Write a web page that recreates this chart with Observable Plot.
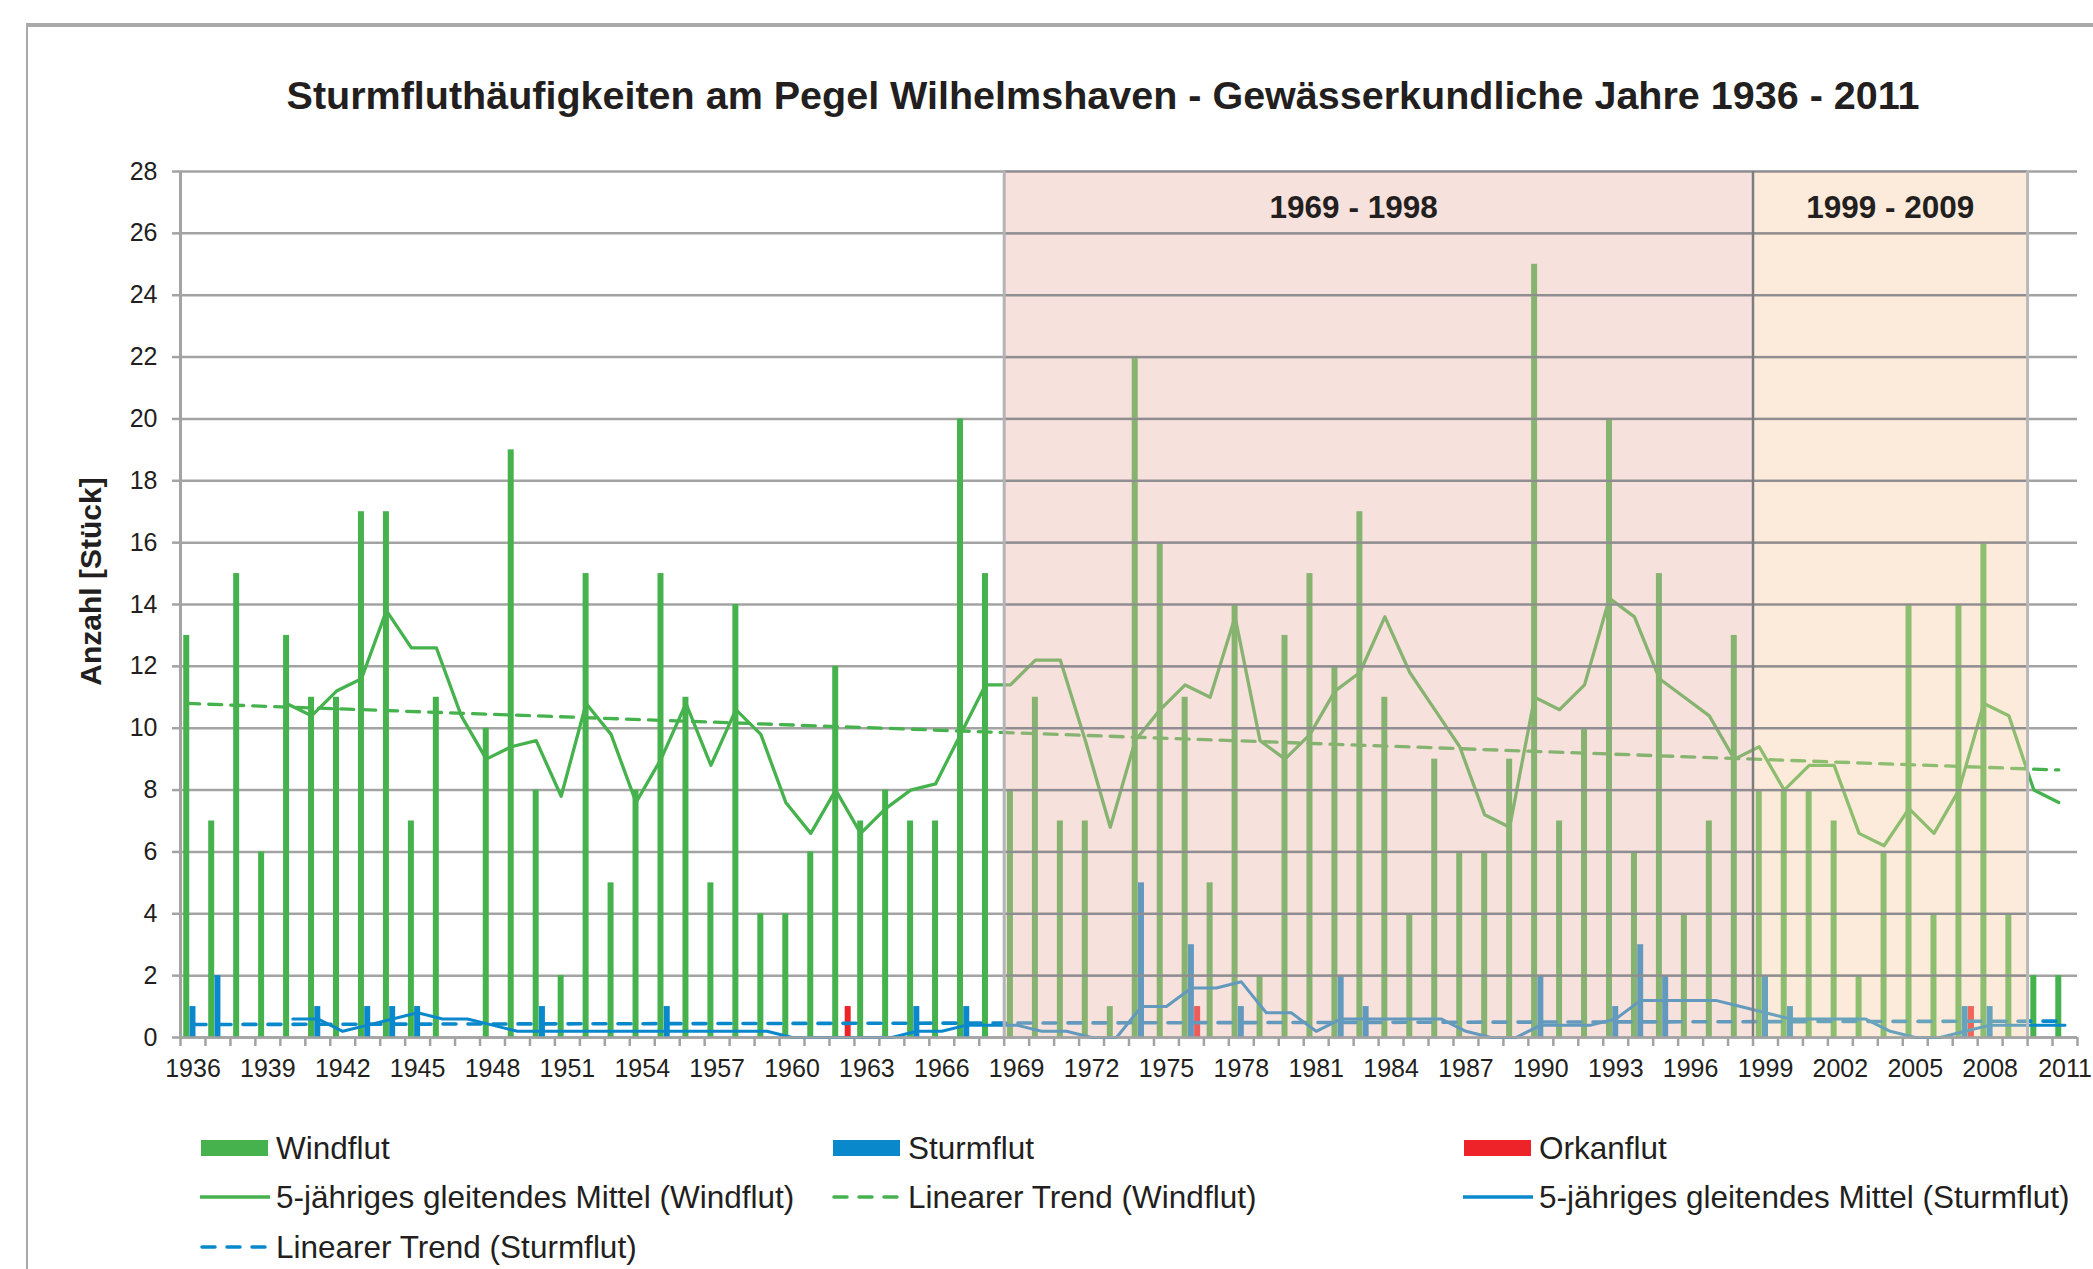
<!DOCTYPE html>
<html>
<head>
<meta charset="utf-8">
<script src="https://cdn.jsdelivr.net/npm/d3@7"></script>
<script src="https://cdn.jsdelivr.net/npm/@observablehq/plot@0.6"></script>
<style>
  html, body { margin: 0; padding: 0; background: #fff; }
  body { font-family: "Liberation Sans", Arial, sans-serif; color: #231f20; }
  #wrap { position: relative; width: 2093px; height: 1269px; overflow: hidden; }
  #frameTop { position: absolute; left: 26px; top: 23px; width: 2100px; height: 0; border-top: 4px solid #a9a9a9; }
  #frameLeft { position: absolute; left: 26px; top: 23px; width: 0; height: 1300px; border-left: 2px solid #a9a9a9; }
  #title { position: absolute; left: 0; width: 2206px; top: 72px; text-align: center; font-weight: bold; font-size: 39.5px; line-height: 46px; white-space: nowrap; }
  #chart { position: absolute; left: 0; top: 130px; }
  .leg { position: absolute; height: 40px; display: flex; align-items: center; font-size: 31.5px; white-space: nowrap; }
  .leg svg { display: block; margin-right: 6px; }
</style>
</head>
<body>
<div id="wrap">
  <div id="frameTop"></div>
  <div id="frameLeft"></div>
  <div id="title">Sturmfluthäufigkeiten am Pegel Wilhelmshaven - Gewässerkundliche Jahre 1936 - 2011</div>
  <div id="chart"></div>
  <div id="legend"></div>
</div>
<script>
// ---------- data ----------
const years = [1936,1937,1938,1939,1940,1941,1942,1943,1944,1945,
  1946,1947,1948,1949,1950,1951,1952,1953,1954,1955,
  1956,1957,1958,1959,1960,1961,1962,1963,1964,1965,
  1966,1967,1968,1969,1970,1971,1972,1973,1974,1975,
  1976,1977,1978,1979,1980,1981,1982,1983,1984,1985,
  1986,1987,1988,1989,1990,1991,1992,1993,1994,1995,
  1996,1997,1998,1999,2000,2001,2002,2003,2004,2005,
  2006,2007,2008,2009,2010,2011];

const windflut = [13,7,15,6,13,11,11,17,17,7,
  11,0,10,19,8,2,15,5,8,15,
  11,5,14,4,4,6,12,7,8,7,
  7,20,15,8,11,7,7,1,22,16,
  11,5,14,2,13,15,12,17,11,4,
  9,6,6,9,25,7,10,20,6,15,
  4,7,13,8,8,8,7,2,6,14,
  4,14,16,4,2,2];

const sturmflut = [1,2,0,0,0,1,0,1,1,1,
  0,0,0,0,1,0,0,0,0,1,
  0,0,0,0,0,0,0,0,0,1,
  0,1,0,0,0,0,0,0,5,0,
  3,0,1,0,0,0,2,1,0,0,
  0,0,0,0,2,0,0,1,3,2,
  0,0,0,2,1,0,0,0,0,0,
  0,1,1,0,0,0];

const orkanflut = [0,0,0,0,0,0,0,0,0,0,
  0,0,0,0,0,0,0,0,0,0,
  0,0,0,0,0,0,1,0,0,0,
  0,0,0,0,0,0,0,0,0,0,
  1,0,0,0,0,0,0,0,0,0,
  0,0,0,0,0,0,0,0,0,0,
  0,0,0,0,0,0,0,0,0,0,
  0,1,0,0,0,0];

// 5-jähriges gleitendes Mittel, years 1940 - 2011
const maYears = years.slice(4);
const maWindflut = [10.8,10.4,11.2,11.6,13.8,12.6,12.6,10.4,9.0,9.4,
  9.6,7.8,10.8,9.8,7.6,9.0,10.8,8.8,10.6,9.8,
  7.6,6.6,8.0,6.6,7.4,8.0,8.2,9.8,11.4,11.4,
  12.2,12.2,9.6,6.8,9.6,10.6,11.4,11.0,13.6,9.6,
  9.0,9.8,11.2,11.8,13.6,11.8,10.6,9.4,7.2,6.8,
  11.0,10.6,11.4,14.2,13.6,11.6,11.0,10.4,9.0,9.4,
  8.0,8.8,8.8,6.6,6.2,7.4,6.6,8.0,10.8,10.4,
  8.0,7.6];
const maSturmflut = [0.6,0.6,0.2,0.4,0.6,0.8,0.6,0.6,0.4,0.2,
  0.2,0.2,0.2,0.2,0.2,0.2,0.2,0.2,0.2,0.2,
  0,0,0,0,0,0.2,0.2,0.4,0.4,0.4,
  0.2,0.2,0,0,1.0,1.0,1.6,1.6,1.8,0.8,
  0.8,0.2,0.6,0.6,0.6,0.6,0.6,0.2,0,0,
  0.4,0.4,0.4,0.6,1.2,1.2,1.2,1.2,1.0,0.8,
  0.6,0.6,0.6,0.6,0.2,0,0,0.2,0.4,0.4,
  0.4,0.4];

// Linear trends (end points)
const trendYears = [1936, 2011];
const trendWindflut = [10.8, 8.65];
const trendSturmflut = [0.42, 0.53];

// Periods
const periodFrom = [1969, 1999];
const periodTo = [1998, 2009];
const periodLabels = ["1969 - 1998", "1999 - 2009"];
const periodLabelYear = [1982.5, 2004];
const periodFill = ["rgb(232,180,167)", "rgb(247,205,162)"];

const yTicks = [0,2,4,6,8,10,12,14,16,18,20,22,24,26,28];
const xLabelYears = [1936,1939,1942,1945,1948,1951,1954,1957,1960,1963,1966,1969,1972,1975,1978,1981,1984,1987,1990,1993,1996,1999,2002,2005,2008,2011];

const seriesNames = ["Windflut", "Sturmflut", "Orkanflut"];
const seriesColors = ["#46b24d", "#0a88cc", "#ee2229"];
const seriesOffset = [-0.25, 0, 0.25];

// ---------- derived tables ----------
const bars = [];
[windflut, sturmflut, orkanflut].forEach((vals, s) => {
  years.forEach((yr, i) => { if (vals[i] > 0) bars.push({year: yr, value: vals[i], s}); });
});
const maW = maYears.map((yr, i) => ({year: yr, v: maWindflut[i]}));
const maS = maYears.map((yr, i) => ({year: yr, v: maSturmflut[i]}));
const trW = trendYears.map((yr, i) => ({year: yr, v: trendWindflut[i]}));
const trS = trendYears.map((yr, i) => ({year: yr, v: trendSturmflut[i]}));
const periods = periodFrom.map((f, i) => ({from: f, to: periodTo[i], fill: periodFill[i], label: periodLabels[i], lx: periodLabelYear[i]}));
const boundaries = years.map(y => y - 0.5).concat([years[years.length - 1] + 0.5]);

const gridColor = "#a3a3a3";
const textColor = "#231f20";
const halfBar = 0.12;

const chart = Plot.plot({
  width: 2093,
  height: 980,
  marginLeft: 180,
  marginRight: 16,
  marginTop: 41,
  marginBottom: 73,
  x: {type: "linear", domain: [years[0] - 0.5, years[years.length - 1] + 0.5]},
  y: {domain: [0, 28]},
  style: {fontFamily: "'Liberation Sans', Arial, sans-serif", background: "transparent", color: textColor},
  marks: [
    Plot.ruleY(yTicks, {stroke: gridColor, strokeWidth: 2.5}),
    Plot.axisY({ticks: yTicks, tickSize: 8, tickPadding: 15, fontSize: 25, stroke: gridColor, strokeWidth: 2.5, fill: textColor, label: null}),
    Plot.axisX({ticks: boundaries, tickSize: 9, tickFormat: () => "", stroke: gridColor, strokeWidth: 2.5, label: null}),
    Plot.axisX({ticks: xLabelYears, tickSize: 0, tickPadding: 22, tickFormat: d => String(d), fontSize: 25, fill: textColor, label: null}),
    Plot.rectY(bars, {
      x1: d => d.year + seriesOffset[d.s] - halfBar,
      x2: d => d.year + seriesOffset[d.s] + halfBar,
      y1: 0, y2: "value",
      fill: d => seriesColors[d.s]
    }),
    Plot.line(trW, {x: d => d.year + seriesOffset[0], y: "v", stroke: seriesColors[0], strokeWidth: 3.3, strokeDasharray: "13,9"}),
    Plot.line(trS, {x: d => d.year + seriesOffset[1], y: "v", stroke: seriesColors[1], strokeWidth: 3.6, strokeDasharray: "13,12"}),
    Plot.line(maW, {x: d => d.year + seriesOffset[0], y: "v", stroke: seriesColors[0], strokeWidth: 3.3}),
    Plot.line(maS, {x: d => d.year + seriesOffset[1], y: "v", stroke: seriesColors[1], strokeWidth: 3}),
    Plot.rect(periods, {x1: d => d.from - 0.5, x2: d => d.to + 0.5, y1: 0, y2: 28, fill: d => d.fill, fillOpacity: 0.4}),
    Plot.ruleY(yTicks.filter(t => t > 0), {x1: periodFrom[0] - 0.5, x2: periodTo[1] + 0.5, stroke: "#8e8e92", strokeWidth: 2.2}),
    Plot.ruleX([periodFrom[0] - 0.5], {y1: 0, y2: 28, stroke: "#b3b3b8", strokeWidth: 3}),
    Plot.ruleX([periodFrom[1] - 0.5], {y1: 0, y2: 28, stroke: "#7d7d80", strokeWidth: 2.5}),
    Plot.ruleX([periodTo[1] + 0.5], {y1: 0, y2: 28, stroke: "#b8b8b8", strokeWidth: 3}),
    Plot.text(periods, {x: "lx", text: "label", frameAnchor: "top", dy: 24, fontWeight: "bold", fontSize: 31.5, fill: textColor}),
    Plot.ruleX([years[0] - 0.5], {y1: 0, y2: 28, stroke: gridColor, strokeWidth: 3}),
    Plot.ruleY([0], {stroke: gridColor, strokeWidth: 2.5}),
    Plot.text(["Anzahl [Stück]"], {frameAnchor: "left", textAnchor: "middle", dx: -89, dy: -23, rotate: -90, fontWeight: "bold", fontSize: 30, fill: textColor})
  ]
});
document.getElementById("chart").appendChild(chart);

// ---------- legend ----------
const legendLabels = ["Windflut", "Sturmflut", "Orkanflut",
  "5-jähriges gleitendes Mittel (Windflut)", "Linearer Trend (Windflut)", "5-jähriges gleitendes Mittel (Sturmflut)",
  "Linearer Trend (Sturmflut)"];
const legendColors = [seriesColors[0], seriesColors[1], seriesColors[2], seriesColors[0], seriesColors[0], seriesColors[1], seriesColors[1]];
const legendKind = ["bar", "bar", "bar", "line", "dash", "line", "dash"];
const legendColX = [200, 832, 1463];
const legendRowY = [1148, 1197, 1247];
const legend = document.getElementById("legend");
legendLabels.forEach((lab, i) => {
  const div = document.createElement("div");
  div.className = "leg";
  div.style.left = legendColX[i % 3] + "px";
  div.style.top = (legendRowY[Math.floor(i / 3)] - 20) + "px";
  let sw;
  if (legendKind[i] === "bar") {
    sw = `<svg width="70" height="40"><rect x="1" y="12" width="67" height="16" fill="${legendColors[i]}"/></svg>`;
  } else if (legendKind[i] === "line") {
    sw = `<svg width="70" height="40"><line x1="0" x2="70" y1="20" y2="20" stroke="${legendColors[i]}" stroke-width="3.5" stroke-linecap="round"/></svg>`;
  } else {
    sw = `<svg width="70" height="40"><line x1="2" x2="70" y1="20" y2="20" stroke="${legendColors[i]}" stroke-width="3.5" stroke-dasharray="13,12" stroke-linecap="round"/></svg>`;
  }
  div.innerHTML = sw + `<span>${lab}</span>`;
  legend.appendChild(div);
});
</script>
</body>
</html>
